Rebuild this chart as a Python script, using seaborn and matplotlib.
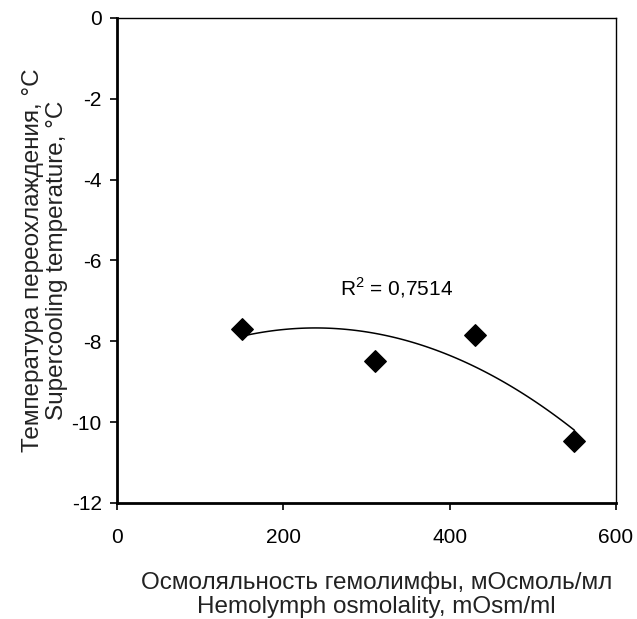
import matplotlib
matplotlib.use("Agg")
import matplotlib.pyplot as plt
import seaborn as sns
import pandas as pd

# values
osmolality = [150, 310, 430, 550]
supercooling = [-7.7, -8.48, -7.85, -10.47]
x_ticks = [0, 200, 400, 600]
y_ticks = [0, -2, -4, -6, -8, -10, -12]
r2_label = "R$^2$ = 0,7514"

sns.set_theme(style="white")
plt.rcParams["font.family"] = ["Liberation Sans", "DejaVu Sans"]
plt.rcParams["axes.unicode_minus"] = False
plt.rcParams["mathtext.fontset"] = "custom"
plt.rcParams["mathtext.rm"] = "Liberation Sans"

df = pd.DataFrame({"osm": osmolality, "temp": supercooling})

fig = plt.figure(figsize=(6.37, 6.19), dpi=100)
ax = fig.add_axes([0.1837, 0.1874, 0.7833, 0.7836])

sns.regplot(data=df, x="osm", y="temp", order=2, ci=None, ax=ax,
            marker="D",
            scatter_kws={"s": 120, "color": "black", "edgecolor": "black",
                         "alpha": 1, "zorder": 3},
            line_kws={"color": "black", "linewidth": 1.1})

ax.set_xlim(0, 600)
ax.set_ylim(-12, 0)
ax.set_xticks(x_ticks)
ax.set_yticks(y_ticks)
ax.tick_params(direction="out", length=5, width=1.2, colors="black",
               labelsize=15, left=True, bottom=True, pad=6)
ax.tick_params(axis="x", pad=13)

for side in ["left", "bottom"]:
    ax.spines[side].set_linewidth(2)
    ax.spines[side].set_color("black")
for side in ["top", "right"]:
    ax.spines[side].set_linewidth(1)
    ax.spines[side].set_color("black")

ax.set_xlabel("Осмоляльность гемолимфы, мОсмоль/мл\nHemolymph osmolality, mOsm/ml",
              fontsize=17.5, color="#222222", linespacing=1.12)
ax.xaxis.set_label_coords(0.52, -0.142, transform=ax.transAxes)
ax.set_ylabel("Температура переохлаждения, °C\nSupercooling temperature, °C",
              fontsize=17.5, color="#222222", linespacing=1.12)
ax.yaxis.set_label_coords(-0.099, 0.5, transform=ax.transAxes)

ax.text(0.447, 0.443, r2_label, transform=ax.transAxes, fontsize=15,
        color="black", ha="left", va="center")

fig.savefig("out.png", dpi=100)
